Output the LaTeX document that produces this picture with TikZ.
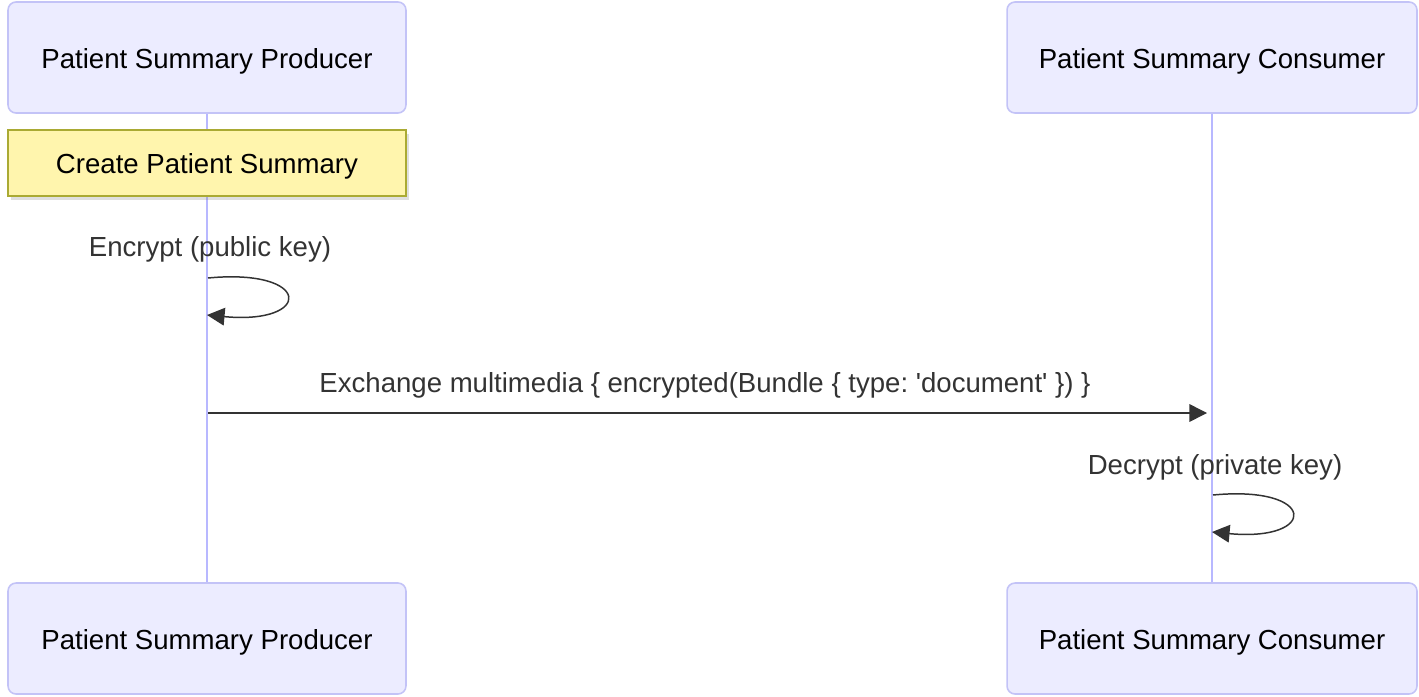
\documentclass[tikz,border=0pt]{standalone}
\usepackage{fontspec}
\setmainfont{Liberation Sans}
\usetikzlibrary{arrows.meta,shadows}
\definecolor{actorfill}{HTML}{ECECFF}
\definecolor{actorline}{HTML}{C3C3F7}
\definecolor{lifeline}{HTML}{B8B8FF}
\definecolor{notefill}{HTML}{FFF5AD}
\definecolor{noteline}{HTML}{AAAA33}
\definecolor{msgcol}{HTML}{333333}
\frenchspacing

\begin{document}
\begin{tikzpicture}[x=0.02cm,y=-0.02cm,
  font=\fontsize{15.7pt}{18pt}\selectfont,
  actor/.style={draw=actorline,fill=actorfill,line width=0.9pt,rounded corners=4.5pt,
    minimum height=2.22cm,inner sep=0pt,text height=15.3pt,text depth=3.3pt},
  note/.style={draw=noteline,fill=notefill,line width=0.8pt,inner sep=0pt,
    minimum width=7.96cm,minimum height=1.32cm,text height=14.7pt,text depth=3.3pt,
    drop shadow={shadow xshift=1.5pt,shadow yshift=-2pt,opacity=0.25}},
  life/.style={draw=lifeline,line width=1.5pt},
  msg/.style={draw=msgcol,line width=0.85pt,-{Triangle[length=10pt,width=10pt]}},
  msglabel/.style={text=msgcol,inner sep=0pt}]
\useasboundingbox (0,0) rectangle (1419,696);

% actors
\node[actor,minimum width=7.96cm] (prod-top) at (207,57.5) {Patient Summary Producer};
\node[actor,minimum width=8.2cm] (cons-top) at (1212,57.5) {Patient Summary Consumer};
\node[actor,minimum width=7.96cm] (prod-bot) at (207,638.5) {Patient Summary Producer};
\node[actor,minimum width=8.2cm] (cons-bot) at (1212,638.5) {Patient Summary Consumer};

% lifelines
\draw[life] (prod-top) -- (prod-bot);
\draw[life] (cons-top) -- (cons-bot);

% note
\node[note] (create) at (207,163) {Create Patient Summary};

% encrypt
\node[msglabel] (enc-lbl) at (210,249) {Encrypt (public key)};
\coordinate (enc-s) at (208,278);
\coordinate (enc-e) at (207,315);
\draw[msg] (enc-s) .. controls +(105,-10) and +(106,10) .. (enc-e);

% exchange
\node[msglabel] (ex-lbl) at (705,385) {Exchange multimedia \{ encrypted(Bundle \{ type: \textquotesingle document\textquotesingle\ \}) \}};
\coordinate (ex-s) at (208,413);
\coordinate (ex-e) at (1207,413);
\draw[msg] (ex-s) -- (ex-e);

% decrypt
\node[msglabel] (dec-lbl) at (1215,467) {Decrypt (private key)};
\coordinate (dec-s) at (1213,495);
\coordinate (dec-e) at (1212,532);
\draw[msg] (dec-s) .. controls +(105,-10) and +(106,10) .. (dec-e);
\end{tikzpicture}
\end{document}
